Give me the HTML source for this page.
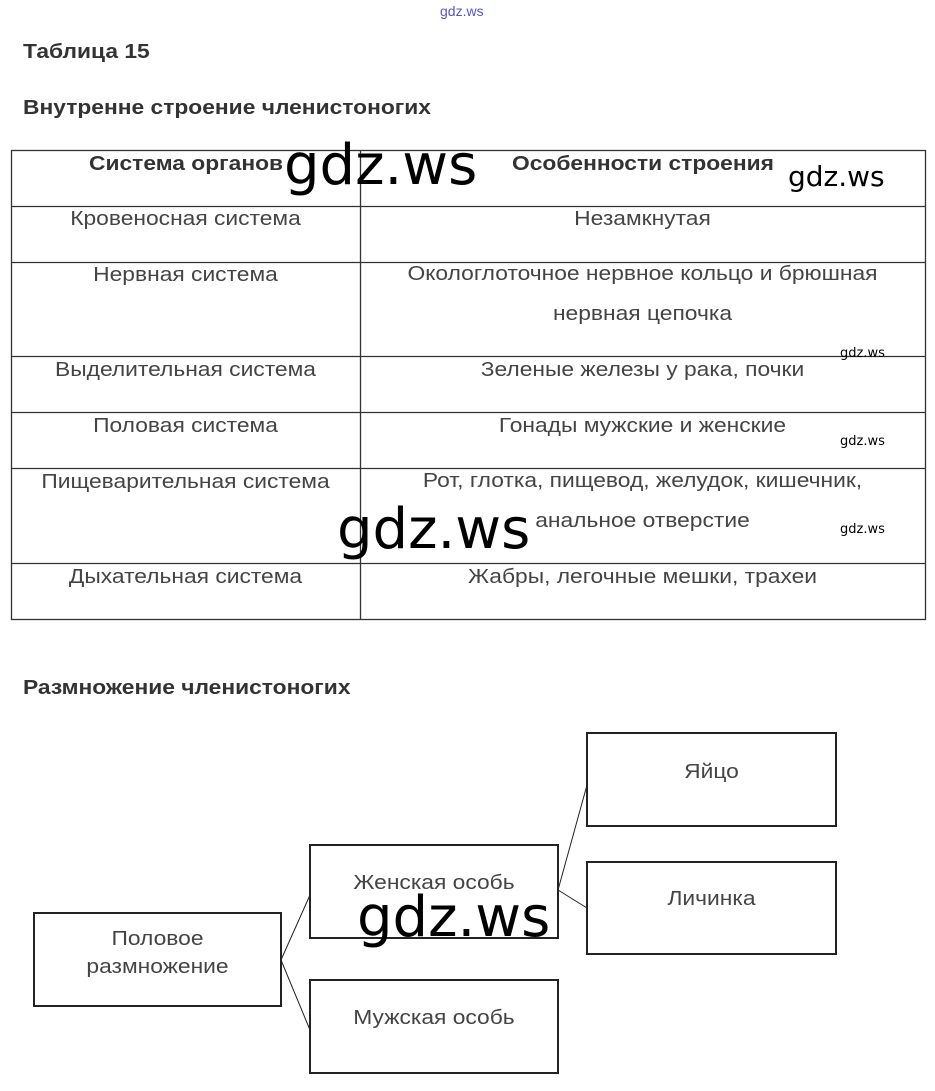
<!DOCTYPE html>
<html><head><meta charset="utf-8"><style>
body{margin:0;width:935px;height:1091px;background:#fff;position:relative;overflow:hidden;font-family:"Liberation Sans",sans-serif;}
.a{position:absolute;white-space:nowrap}
.h{font-weight:bold;font-size:20px;color:#333;transform:scaleX(1.14);transform-origin:left center}
.t{font-size:20px;color:#444;text-align:center;transform:scaleX(1.14);transform-origin:center center}
.w{font-family:"DejaVu Sans","Liberation Sans",sans-serif;color:#000;line-height:1}
</style></head><body>
<div class="a" style="left:440px;top:3px;font-size:14px;color:#55c">gdz.ws</div>
<div class="a h" style="left:23px;top:41px">Таблица 15</div>
<div class="a h" style="left:23px;top:97px">Внутренне строение членистоногих</div>
<svg class="a" style="left:0;top:0" width="935" height="1091">
<g stroke="#333" stroke-width="1.3" fill="none">
<rect x="11.5" y="150.5" width="914" height="469"/>
<line x1="360.5" y1="150" x2="360.5" y2="619"/>
<line x1="11" y1="206.5" x2="925" y2="206.5"/>
<line x1="11" y1="262.5" x2="925" y2="262.5"/>
<line x1="11" y1="356.5" x2="925" y2="356.5"/>
<line x1="11" y1="412.5" x2="925" y2="412.5"/>
<line x1="11" y1="468.5" x2="925" y2="468.5"/>
<line x1="11" y1="563.5" x2="925" y2="563.5"/>
</g>
<g stroke="#222" stroke-width="2" fill="none">
<rect x="34" y="913" width="247" height="93"/>
<rect x="310" y="845" width="248" height="93"/>
<rect x="310" y="980" width="248" height="93"/>
<rect x="587" y="733" width="249" height="93"/>
<rect x="587" y="862" width="249" height="92"/>
</g>
<g stroke="#222" stroke-width="1" fill="none">
<line x1="281" y1="960" x2="310" y2="895"/>
<line x1="281" y1="960" x2="310" y2="1030"/>
<line x1="558" y1="890" x2="587" y2="785"/>
<line x1="558" y1="890" x2="587" y2="908"/>
</g>
</svg>
<div class="a h" style="left:89px;top:153px">Система органов</div>
<div class="a h" style="left:512px;top:153px">Особенности строения</div>
<div class="a t" style="left:11px;width:349px;top:208px">Кровеносная система</div>
<div class="a t" style="left:360px;width:565px;top:208px">Незамкнутая</div>
<div class="a t" style="left:11px;width:349px;top:264px">Нервная система</div>
<div class="a t" style="left:360px;width:565px;top:254px;line-height:40px">Окологлоточное нервное кольцо и брюшная<br>нервная цепочка</div>
<div class="a t" style="left:11px;width:349px;top:359px">Выделительная система</div>
<div class="a t" style="left:360px;width:565px;top:359px">Зеленые железы у рака, почки</div>
<div class="a t" style="left:11px;width:349px;top:415px">Половая система</div>
<div class="a t" style="left:360px;width:565px;top:415px">Гонады мужские и женские</div>
<div class="a t" style="left:11px;width:349px;top:471px">Пищеварительная система</div>
<div class="a t" style="left:360px;width:565px;top:461px;line-height:40px">Рот, глотка, пищевод, желудок, кишечник,<br>анальное отверстие</div>
<div class="a t" style="left:11px;width:349px;top:566px">Дыхательная система</div>
<div class="a t" style="left:360px;width:565px;top:566px">Жабры, легочные мешки, трахеи</div>
<div class="a h" style="left:23px;top:677px">Размножение членистоногих</div>
<div class="a t" style="left:34px;width:247px;top:925px;line-height:28px">Половое<br>размножение</div>
<div class="a t" style="left:310px;width:248px;top:872px">Женская особь</div>
<div class="a t" style="left:310px;width:248px;top:1007px">Мужская особь</div>
<div class="a t" style="left:587px;width:249px;top:761px">Яйцо</div>
<div class="a t" style="left:587px;width:249px;top:888px">Личинка</div>
<div class="a w" style="left:284px;top:138px;font-size:56px">gdz.ws</div>
<div class="a w" style="left:788px;top:163px;font-size:28px">gdz.ws</div>
<div class="a w" style="left:840px;top:347px;font-size:13px">gdz.ws</div>
<div class="a w" style="left:840px;top:435px;font-size:13px">gdz.ws</div>
<div class="a w" style="left:840px;top:523px;font-size:13px">gdz.ws</div>
<div class="a w" style="left:337px;top:502px;font-size:56px">gdz.ws</div>
<div class="a w" style="left:357px;top:890px;font-size:56px">gdz.ws</div>
</body></html>
